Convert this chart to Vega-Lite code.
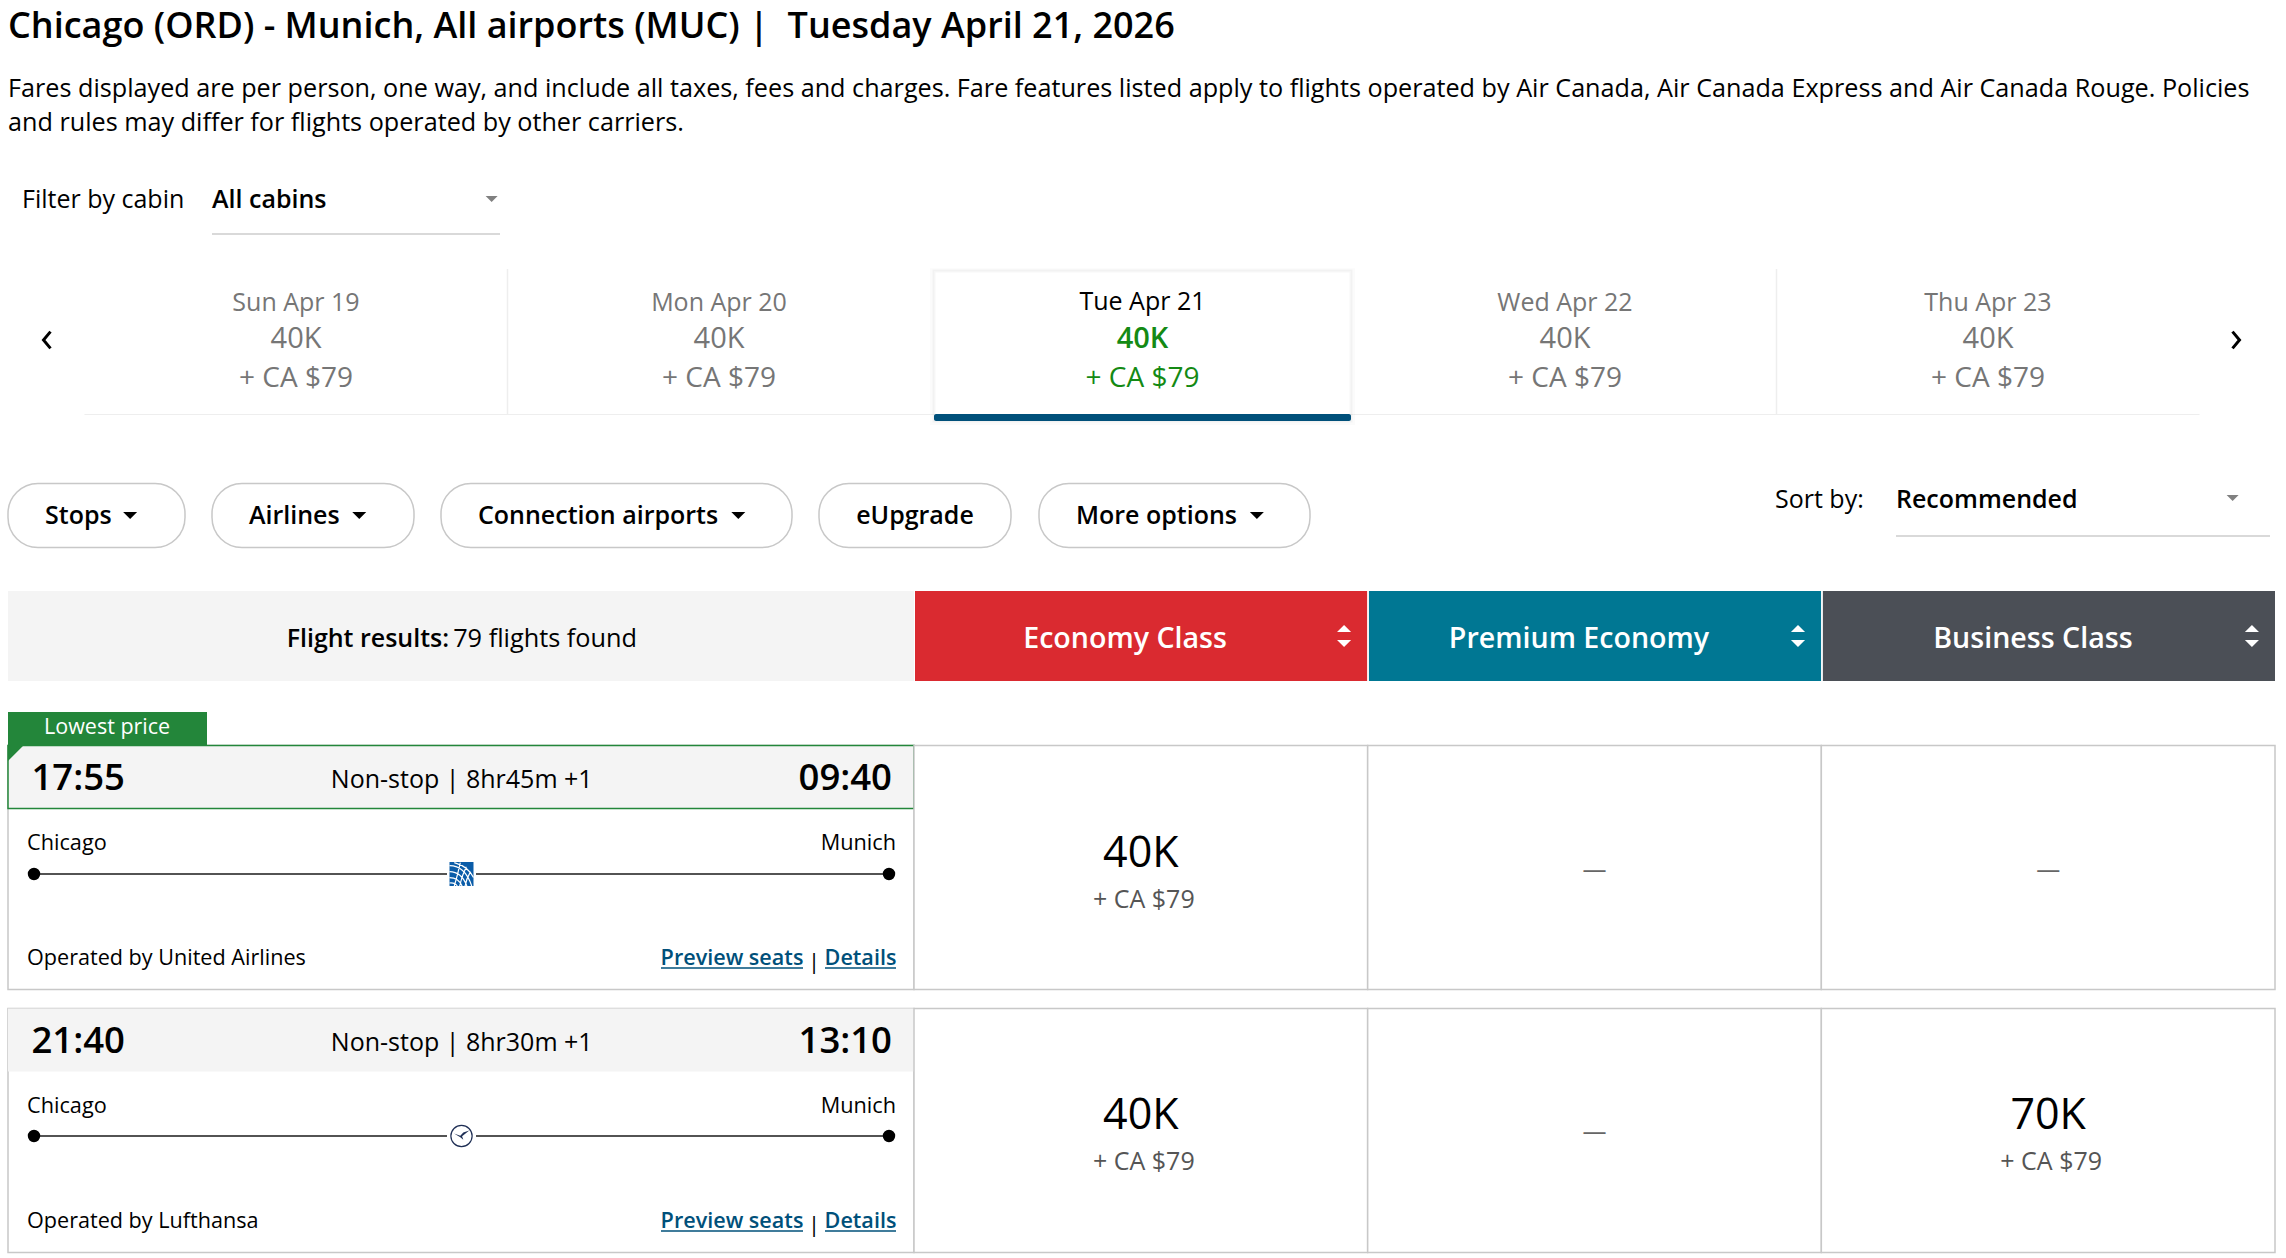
{
  "$schema": "https://vega.github.io/schema/vega-lite/v6.json",
  "width": 2286,
  "height": 1258,
  "padding": 0,
  "background": "#ffffff",
  "description": "Air Canada Aeroplan search results, Chicago to Munich",
  "config": {
    "view": {"stroke": null},
    "axis": {"disable": true},
    "scale": {"pointPadding": 0, "bandPaddingInner": 0, "bandPaddingOuter": 0},
    "text": {"font": "Open Sans", "baseline": "alphabetic", "color": "#000000"}
  },
  "datasets": {
    "page": [
      {"part": "title", "text": "Chicago (ORD) - Munich, All airports (MUC) | \u00a0Tuesday April 21, 2026"},
      {"part": "line1", "text": "Fares displayed are per person, one way, and include all taxes, fees and charges. Fare features listed apply to flights operated by Air Canada, Air Canada Express and Air Canada Rouge. Policies"},
      {"part": "line2", "text": "and rules may differ for flights operated by other carriers."}
    ],
    "selectors": [
      {"selector": "cabin", "label": "Filter by cabin", "value": "All cabins"},
      {"selector": "sort", "label": "Sort by:", "value": "Recommended"}
    ],
    "days": [
      {"day": "Sun Apr 19", "points": "40K", "cash": "+ CA $79"},
      {"day": "Mon Apr 20", "points": "40K", "cash": "+ CA $79"},
      {"day": "Tue Apr 21", "points": "40K", "cash": "+ CA $79"},
      {"day": "Wed Apr 22", "points": "40K", "cash": "+ CA $79"},
      {"day": "Thu Apr 23", "points": "40K", "cash": "+ CA $79"}
    ],
    "nav": [{"nav": "previous"}, {"nav": "next"}],
    "controls": [
      {"control": "Stops"},
      {"control": "Airlines"},
      {"control": "Connection airports"},
      {"control": "eUpgrade"},
      {"control": "More options"}
    ],
    "summary": [{"label": "Flight results:", "count": "79 flights found"}],
    "cabins": [
      {"cabin": "Economy Class"},
      {"cabin": "Premium Economy"},
      {"cabin": "Business Class"}
    ],
    "flights": [
      {"carrier": "United Airlines", "lowest": true, "tag": "Lowest price", "departure": "17:55", "duration": "Non-stop  |  8hr45m +1", "arrival": "09:40", "origin": "Chicago", "destination": "Munich", "operated": "Operated by United Airlines", "preview": "Preview seats", "details": "Details"},
      {"carrier": "Lufthansa", "lowest": false, "tag": "", "departure": "21:40", "duration": "Non-stop  |  8hr30m +1", "arrival": "13:10", "origin": "Chicago", "destination": "Munich", "operated": "Operated by Lufthansa", "preview": "Preview seats", "details": "Details"}
    ],
    "stops": [
      {"carrier": "United Airlines", "stop": "origin", "progress": 0},
      {"carrier": "United Airlines", "stop": "logo", "progress": 0.5},
      {"carrier": "United Airlines", "stop": "destination", "progress": 1},
      {"carrier": "Lufthansa", "stop": "origin", "progress": 0},
      {"carrier": "Lufthansa", "stop": "logo", "progress": 0.5},
      {"carrier": "Lufthansa", "stop": "destination", "progress": 1}
    ],
    "fares": [
      {"carrier": "United Airlines", "cabin": "Economy Class", "points": "40K", "cash": "+ CA $79"},
      {"carrier": "United Airlines", "cabin": "Premium Economy", "points": "—", "cash": ""},
      {"carrier": "United Airlines", "cabin": "Business Class", "points": "—", "cash": ""},
      {"carrier": "Lufthansa", "cabin": "Economy Class", "points": "40K", "cash": "+ CA $79"},
      {"carrier": "Lufthansa", "cabin": "Premium Economy", "points": "—", "cash": ""},
      {"carrier": "Lufthansa", "cabin": "Business Class", "points": "70K", "cash": "+ CA $79"}
    ]
  },
  "resolve": {"scale": {"x": "independent", "y": "independent"}},
  "layer": [
    {
      "name": "title",
      "data": {"name": "page"},
      "transform": [{"filter": "datum.part == 'title'"}],
      "mark": {"type": "text", "align": "left", "fontSize": 36, "fontWeight": 600},
      "encoding": {
        "x": {"field": "part", "type": "nominal", "scale": {"type": "point", "range": [8, 8]}},
        "y": {"field": "part", "type": "nominal", "scale": {"type": "point", "range": [38, 38]}},
        "text": {"field": "text"}
      }
    },
    {
      "name": "notice",
      "data": {"name": "page"},
      "transform": [{"filter": "datum.part != 'title'"}],
      "mark": {"type": "text", "align": "left", "fontSize": 25.2},
      "encoding": {
        "x": {"datum": "start", "type": "nominal", "scale": {"type": "point", "range": [8, 8]}},
        "y": {"field": "part", "type": "nominal", "scale": {"type": "point", "domain": ["line1", "line2"], "range": [97, 131]}},
        "text": {"field": "text"}
      }
    },
    {
      "name": "cabin filter",
      "data": {"name": "selectors"},
      "transform": [{"filter": "datum.selector == 'cabin'"}],
      "layer": [
        {
          "mark": {"type": "rule", "color": "#cccccc", "strokeWidth": 1.5},
          "encoding": {
            "x": {"datum": 0, "type": "quantitative", "scale": {"domain": [0, 1], "range": [212, 500]}},
            "x2": {"datum": 1},
            "y": {"datum": 1, "type": "quantitative", "scale": {"domain": [0, 1], "range": [199, 234]}}
          }
        },
        {
          "mark": {"type": "point", "filled": true, "color": "#808080", "opacity": 1, "size": 144, "shape": "M-1,-0.5L1,-0.5L0,0.5Z"},
          "encoding": {"x": {"datum": 0.971, "type": "quantitative"}, "y": {"datum": 0, "type": "quantitative"}}
        },
        {
          "mark": {"type": "text", "align": "left", "fontSize": 25, "fontWeight": 600},
          "encoding": {"x": {"datum": 0, "type": "quantitative"}, "y": {"datum": 0.26, "type": "quantitative"}, "text": {"field": "value"}}
        },
        {
          "mark": {"type": "text", "align": "left", "fontSize": 25, "dx": -190},
          "encoding": {"x": {"datum": 0, "type": "quantitative"}, "y": {"datum": 0.26, "type": "quantitative"}, "text": {"field": "label"}}
        }
      ]
    },
    {
      "name": "sort",
      "data": {"name": "selectors"},
      "transform": [{"filter": "datum.selector == 'sort'"}],
      "layer": [
        {
          "mark": {"type": "rule", "color": "#cccccc", "strokeWidth": 1.5},
          "encoding": {
            "x": {"datum": 0, "type": "quantitative", "scale": {"domain": [0, 1], "range": [1896, 2270]}},
            "x2": {"datum": 1},
            "y": {"datum": 1, "type": "quantitative", "scale": {"domain": [0, 1], "range": [498, 536]}}
          }
        },
        {
          "mark": {"type": "point", "filled": true, "color": "#808080", "opacity": 1, "size": 144, "shape": "M-1,-0.5L1,-0.5L0,0.5Z"},
          "encoding": {"x": {"datum": 0.9, "type": "quantitative"}, "y": {"datum": 0, "type": "quantitative"}}
        },
        {
          "mark": {"type": "text", "align": "left", "fontSize": 25, "fontWeight": 600},
          "encoding": {"x": {"datum": 0, "type": "quantitative"}, "y": {"datum": 0.26, "type": "quantitative"}, "text": {"field": "value"}}
        },
        {
          "mark": {"type": "text", "align": "left", "fontSize": 25, "dx": -121},
          "encoding": {"x": {"datum": 0, "type": "quantitative"}, "y": {"datum": 0.26, "type": "quantitative"}, "text": {"field": "label"}}
        }
      ]
    },
    {
      "name": "date strip",
      "data": {"name": "days"},
      "layer": [
        {
          "mark": {"type": "rect", "color": "#eeeeee"},
          "encoding": {
            "x": {"field": "day", "type": "nominal", "sort": null, "scale": {"type": "band", "range": [84.5, 2199.5]}},
            "y": {"datum": 0.993, "type": "quantitative", "scale": {"domain": [0, 1], "range": [269, 415]}},
            "y2": {"datum": 1}
          }
        },
        {
          "transform": [{"filter": "datum.day == 'Sun Apr 19' || datum.day == 'Wed Apr 22'"}],
          "mark": {"type": "rule", "color": "#eeeeee", "strokeWidth": 1.5},
          "encoding": {
            "x": {"field": "day", "type": "nominal", "bandPosition": 1, "sort": null, "scale": {"type": "band"}},
            "y": {"datum": 0, "type": "quantitative"},
            "y2": {"datum": 1}
          }
        },
        {
          "transform": [{"filter": "datum.day != 'Tue Apr 21'"}],
          "layer": [
            {
              "mark": {"type": "text", "align": "center", "fontSize": 25, "color": "#767676"},
              "encoding": {
                "x": {"field": "day", "type": "nominal", "sort": null, "scale": {"type": "band"}},
                "y": {"datum": 0.285, "type": "quantitative"},
                "text": {"field": "day"}
              }
            },
            {
              "mark": {"type": "text", "align": "center", "fontSize": 29, "color": "#767676"},
              "encoding": {
                "x": {"field": "day", "type": "nominal", "sort": null, "scale": {"type": "band"}},
                "y": {"datum": 0.54, "type": "quantitative"},
                "text": {"field": "points"}
              }
            },
            {
              "mark": {"type": "text", "align": "center", "fontSize": 28, "color": "#767676"},
              "encoding": {
                "x": {"field": "day", "type": "nominal", "sort": null, "scale": {"type": "band"}},
                "y": {"datum": 0.81, "type": "quantitative"},
                "text": {"field": "cash"}
              }
            }
          ]
        }
      ]
    },
    {
      "name": "selected day",
      "data": {"name": "days"},
      "transform": [{"filter": "datum.day == 'Tue Apr 21'"}],
      "layer": [
        {
          "mark": {"type": "rect", "fill": "#ffffff", "stroke": "#000000", "strokeWidth": 8, "strokeOpacity": 0.015},
          "encoding": {
            "x": {"field": "day", "type": "nominal", "scale": {"type": "band", "range": [934, 1351]}},
            "y": {"datum": 0.015, "type": "quantitative", "scale": {"domain": [0, 1], "range": [270, 421]}},
            "y2": {"datum": 1}
          }
        },
        {
          "mark": {"type": "rect", "fill": "#ffffff", "stroke": "#000000", "strokeWidth": 3, "strokeOpacity": 0.035},
          "encoding": {
            "x": {"field": "day", "type": "nominal", "scale": {"type": "band"}},
            "y": {"datum": 0.006, "type": "quantitative"},
            "y2": {"datum": 1}
          }
        },
        {
          "mark": {"type": "rect", "color": "#00507a", "cornerRadius": 2},
          "encoding": {
            "x": {"field": "day", "type": "nominal", "scale": {"type": "band"}},
            "y": {"datum": 0.954, "type": "quantitative"},
            "y2": {"datum": 1}
          }
        },
        {
          "mark": {"type": "text", "align": "center", "fontSize": 25},
          "encoding": {
            "x": {"field": "day", "type": "nominal", "scale": {"type": "band"}},
            "y": {"datum": 0.267, "type": "quantitative"},
            "text": {"field": "day"}
          }
        },
        {
          "mark": {"type": "text", "align": "center", "fontSize": 29, "fontWeight": 600, "color": "#148a14"},
          "encoding": {
            "x": {"field": "day", "type": "nominal", "scale": {"type": "band"}},
            "y": {"datum": 0.517, "type": "quantitative"},
            "text": {"field": "points"}
          }
        },
        {
          "mark": {"type": "text", "align": "center", "fontSize": 28, "color": "#148a14"},
          "encoding": {
            "x": {"field": "day", "type": "nominal", "scale": {"type": "band"}},
            "y": {"datum": 0.776, "type": "quantitative"},
            "text": {"field": "cash"}
          }
        }
      ]
    },
    {
      "name": "previous day",
      "data": {"name": "nav"},
      "mark": {"type": "point", "filled": false, "color": "#000000", "opacity": 1, "strokeWidth": 3, "size": 784, "shape": "M0.25,-0.6L-0.25,0L0.25,0.6"},
      "transform": [{"filter": "datum.nav == 'previous'"}],
      "encoding": {
        "x": {"field": "nav", "type": "nominal", "scale": {"type": "point", "range": [47, 47]}},
        "y": {"field": "nav", "type": "nominal", "scale": {"type": "point", "range": [340, 340]}}
      }
    },
    {
      "name": "next day",
      "data": {"name": "nav"},
      "mark": {"type": "point", "filled": false, "color": "#000000", "opacity": 1, "strokeWidth": 3, "size": 784, "shape": "M-0.25,-0.6L0.25,0L-0.25,0.6"},
      "transform": [{"filter": "datum.nav == 'next'"}],
      "encoding": {
        "x": {"field": "nav", "type": "nominal", "scale": {"type": "point", "range": [2236, 2236]}},
        "y": {"field": "nav", "type": "nominal", "scale": {"type": "point", "range": [340, 340]}}
      }
    },
    {
      "name": "stops pill",
      "data": {"name": "controls"},
      "transform": [{"filter": "datum.control == 'Stops'"}],
      "layer": [
        {
          "mark": {"type": "rect", "fill": "#ffffff", "stroke": "#c8c8c8", "strokeWidth": 1.5, "cornerRadius": 30},
          "encoding": {
            "x": {"datum": 0, "type": "quantitative", "scale": {"domain": [0, 1], "range": [8, 185]}},
            "x2": {"datum": 1},
            "y": {"datum": 0, "type": "quantitative", "scale": {"domain": [0, 1], "range": [483.5, 547.5]}},
            "y2": {"datum": 1}
          }
        },
        {
          "mark": {"type": "text", "align": "left", "dx": 37, "fontSize": 25, "fontWeight": 600},
          "encoding": {"x": {"datum": 0, "type": "quantitative"}, "y": {"datum": 0.64, "type": "quantitative"}, "text": {"field": "control"}}
        },
        {
          "mark": {"type": "point", "filled": true, "color": "#000000", "opacity": 1, "size": 196, "shape": "M-1,-0.5L1,-0.5L0,0.5Z"},
          "encoding": {"x": {"datum": 0.69, "type": "quantitative"}, "y": {"datum": 0.5, "type": "quantitative"}}
        }
      ]
    },
    {
      "name": "airlines pill",
      "data": {"name": "controls"},
      "transform": [{"filter": "datum.control == 'Airlines'"}],
      "layer": [
        {
          "mark": {"type": "rect", "fill": "#ffffff", "stroke": "#c8c8c8", "strokeWidth": 1.5, "cornerRadius": 30},
          "encoding": {
            "x": {"datum": 0, "type": "quantitative", "scale": {"domain": [0, 1], "range": [212, 414]}},
            "x2": {"datum": 1},
            "y": {"datum": 0, "type": "quantitative", "scale": {"domain": [0, 1], "range": [483.5, 547.5]}},
            "y2": {"datum": 1}
          }
        },
        {
          "mark": {"type": "text", "align": "left", "dx": 37, "fontSize": 25, "fontWeight": 600},
          "encoding": {"x": {"datum": 0, "type": "quantitative"}, "y": {"datum": 0.64, "type": "quantitative"}, "text": {"field": "control"}}
        },
        {
          "mark": {"type": "point", "filled": true, "color": "#000000", "opacity": 1, "size": 196, "shape": "M-1,-0.5L1,-0.5L0,0.5Z"},
          "encoding": {"x": {"datum": 0.729, "type": "quantitative"}, "y": {"datum": 0.5, "type": "quantitative"}}
        }
      ]
    },
    {
      "name": "connection pill",
      "data": {"name": "controls"},
      "transform": [{"filter": "datum.control == 'Connection airports'"}],
      "layer": [
        {
          "mark": {"type": "rect", "fill": "#ffffff", "stroke": "#c8c8c8", "strokeWidth": 1.5, "cornerRadius": 30},
          "encoding": {
            "x": {"datum": 0, "type": "quantitative", "scale": {"domain": [0, 1], "range": [441, 792]}},
            "x2": {"datum": 1},
            "y": {"datum": 0, "type": "quantitative", "scale": {"domain": [0, 1], "range": [483.5, 547.5]}},
            "y2": {"datum": 1}
          }
        },
        {
          "mark": {"type": "text", "align": "left", "dx": 37, "fontSize": 25, "fontWeight": 600},
          "encoding": {"x": {"datum": 0, "type": "quantitative"}, "y": {"datum": 0.64, "type": "quantitative"}, "text": {"field": "control"}}
        },
        {
          "mark": {"type": "point", "filled": true, "color": "#000000", "opacity": 1, "size": 196, "shape": "M-1,-0.5L1,-0.5L0,0.5Z"},
          "encoding": {"x": {"datum": 0.847, "type": "quantitative"}, "y": {"datum": 0.5, "type": "quantitative"}}
        }
      ]
    },
    {
      "name": "eupgrade pill",
      "data": {"name": "controls"},
      "transform": [{"filter": "datum.control == 'eUpgrade'"}],
      "layer": [
        {
          "mark": {"type": "rect", "fill": "#ffffff", "stroke": "#c8c8c8", "strokeWidth": 1.5, "cornerRadius": 30},
          "encoding": {
            "x": {"datum": 0, "type": "quantitative", "scale": {"domain": [0, 1], "range": [819, 1011]}},
            "x2": {"datum": 1},
            "y": {"datum": 0, "type": "quantitative", "scale": {"domain": [0, 1], "range": [483.5, 547.5]}},
            "y2": {"datum": 1}
          }
        },
        {
          "mark": {"type": "text", "align": "center", "fontSize": 25, "fontWeight": 600},
          "encoding": {"x": {"datum": 0.5, "type": "quantitative"}, "y": {"datum": 0.64, "type": "quantitative"}, "text": {"field": "control"}}
        }
      ]
    },
    {
      "name": "more options pill",
      "data": {"name": "controls"},
      "transform": [{"filter": "datum.control == 'More options'"}],
      "layer": [
        {
          "mark": {"type": "rect", "fill": "#ffffff", "stroke": "#c8c8c8", "strokeWidth": 1.5, "cornerRadius": 30},
          "encoding": {
            "x": {"datum": 0, "type": "quantitative", "scale": {"domain": [0, 1], "range": [1039, 1310]}},
            "x2": {"datum": 1},
            "y": {"datum": 0, "type": "quantitative", "scale": {"domain": [0, 1], "range": [483.5, 547.5]}},
            "y2": {"datum": 1}
          }
        },
        {
          "mark": {"type": "text", "align": "left", "dx": 37, "fontSize": 25, "fontWeight": 600},
          "encoding": {"x": {"datum": 0, "type": "quantitative"}, "y": {"datum": 0.64, "type": "quantitative"}, "text": {"field": "control"}}
        },
        {
          "mark": {"type": "point", "filled": true, "color": "#000000", "opacity": 1, "size": 196, "shape": "M-1,-0.5L1,-0.5L0,0.5Z"},
          "encoding": {"x": {"datum": 0.804, "type": "quantitative"}, "y": {"datum": 0.5, "type": "quantitative"}}
        }
      ]
    },
    {
      "name": "results bar",
      "data": {"name": "summary"},
      "layer": [
        {
          "mark": {"type": "rect", "color": "#f4f4f4"},
          "encoding": {
            "x": {"datum": 0, "type": "quantitative", "scale": {"domain": [0, 1], "range": [8, 914]}},
            "x2": {"datum": 1},
            "y": {"datum": 0, "type": "quantitative", "scale": {"domain": [0, 1], "range": [591, 681]}},
            "y2": {"datum": 1}
          }
        },
        {
          "mark": {"type": "text", "align": "right", "fontSize": 25, "fontWeight": 600, "dx": -1},
          "encoding": {"x": {"datum": 0.488, "type": "quantitative"}, "y": {"datum": 0.62, "type": "quantitative"}, "text": {"field": "label"}}
        },
        {
          "mark": {"type": "text", "align": "left", "fontSize": 25.3, "dx": 3},
          "encoding": {"x": {"datum": 0.488, "type": "quantitative"}, "y": {"datum": 0.62, "type": "quantitative"}, "text": {"field": "count"}}
        }
      ]
    },
    {
      "name": "cabin headers",
      "data": {"name": "cabins"},
      "layer": [
        {
          "mark": {"type": "rect"},
          "encoding": {
            "x": {"field": "cabin", "type": "nominal", "sort": null, "scale": {"type": "band", "range": [915, 2275], "paddingInner": 0.004}},
            "y": {"datum": 0, "type": "quantitative", "scale": {"domain": [0, 1], "range": [591, 681]}},
            "y2": {"datum": 1},
            "color": {
              "field": "cabin",
              "type": "nominal",
              "legend": null,
              "scale": {"domain": ["Economy Class", "Premium Economy", "Business Class"], "range": ["#da2a30", "#007793", "#4b4f56"]}
            }
          }
        },
        {
          "mark": {"type": "text", "align": "center", "fontSize": 28.6, "fontWeight": 600, "color": "#ffffff", "dx": -16},
          "encoding": {
            "x": {"field": "cabin", "type": "nominal", "sort": null, "scale": {"type": "band"}},
            "y": {"datum": 0.633, "type": "quantitative"},
            "text": {"field": "cabin"}
          }
        },
        {
          "mark": {"type": "point", "filled": true, "color": "#ffffff", "opacity": 1, "size": 484, "shape": "M0,-1L0.64,-0.36L-0.64,-0.36Z M-0.64,0.36L0.64,0.36L0,1Z"},
          "encoding": {
            "x": {"field": "cabin", "type": "nominal", "bandPosition": 0.949, "sort": null, "scale": {"type": "band"}},
            "y": {"datum": 0.5, "type": "quantitative"}
          }
        }
      ]
    },
    {
      "name": "flight cards",
      "data": {"name": "flights"},
      "mark": {"type": "rect", "fill": "#ffffff", "stroke": "#c8c8c8", "strokeWidth": 1.5},
      "encoding": {
        "x": {"datum": 0, "type": "quantitative", "scale": {"domain": [0, 1], "range": [8, 914]}},
        "x2": {"datum": 1},
        "y": {"field": "carrier", "type": "nominal", "sort": null, "scale": {"type": "band", "range": [745.5, 1252.5], "paddingInner": 0.0722}}
      }
    },
    {
      "name": "time strips",
      "data": {"name": "flights"},
      "mark": {"type": "rect", "fill": "#f4f4f4", "strokeWidth": 1.5},
      "encoding": {
        "x": {"datum": 0, "type": "quantitative", "scale": {"domain": [0, 1], "range": [8, 914]}},
        "x2": {"datum": 1},
        "y": {"field": "carrier", "type": "nominal", "sort": null, "scale": {"type": "band", "range": [745.5, 1071.5], "paddingInner": 0.76}},
        "stroke": {"condition": {"test": "datum.lowest", "value": "#23863a"}, "value": null}
      }
    },
    {
      "name": "lowest price tag",
      "data": {"name": "flights"},
      "transform": [{"filter": "datum.lowest"}],
      "layer": [
        {
          "mark": {"type": "rect", "color": "#23863a"},
          "encoding": {
            "x": {"datum": 0, "type": "quantitative", "scale": {"domain": [0, 1], "range": [8, 207]}},
            "x2": {"datum": 1},
            "y": {"datum": 0, "type": "quantitative", "scale": {"domain": [0, 1], "range": [712, 761]}},
            "y2": {"datum": 0.673}
          }
        },
        {
          "mark": {"type": "point", "filled": true, "color": "#23863a", "opacity": 1, "size": 256, "shape": "M-1,-1L1,-1L-1,1Z"},
          "encoding": {"x": {"datum": 0.04, "type": "quantitative"}, "y": {"datum": 0.837, "type": "quantitative"}}
        },
        {
          "mark": {"type": "text", "align": "left", "fontSize": 21.5, "color": "#ffffff"},
          "encoding": {"x": {"datum": 0.181, "type": "quantitative"}, "y": {"datum": 0.449, "type": "quantitative"}, "text": {"field": "tag"}}
        }
      ]
    },
    {
      "name": "times",
      "data": {"name": "flights"},
      "layer": [
        {
          "mark": {"type": "text", "align": "left", "fontSize": 36.5, "fontWeight": 600},
          "encoding": {
            "x": {"datum": "departure", "type": "nominal", "scale": {"type": "point", "domain": ["departure", "duration", "arrival"], "range": [31.5, 892]}},
            "y": {"field": "carrier", "type": "nominal", "sort": null, "scale": {"type": "point", "range": [789.5, 1052.5]}},
            "text": {"field": "departure"}
          }
        },
        {
          "mark": {"type": "text", "align": "center", "fontSize": 25, "dy": -2, "dx": 0},
          "encoding": {
            "x": {"datum": "duration", "type": "nominal", "scale": {"type": "point"}},
            "y": {"field": "carrier", "type": "nominal", "sort": null, "scale": {"type": "point"}},
            "text": {"field": "duration"}
          }
        },
        {
          "mark": {"type": "text", "align": "right", "fontSize": 36.5, "fontWeight": 600},
          "encoding": {
            "x": {"datum": "arrival", "type": "nominal", "scale": {"type": "point"}},
            "y": {"field": "carrier", "type": "nominal", "sort": null, "scale": {"type": "point"}},
            "text": {"field": "arrival"}
          }
        }
      ]
    },
    {
      "name": "cities",
      "data": {"name": "flights"},
      "layer": [
        {
          "mark": {"type": "text", "align": "left", "fontSize": 21.7},
          "encoding": {
            "x": {"datum": "origin", "type": "nominal", "scale": {"type": "point", "domain": ["origin", "destination"], "range": [27, 896]}},
            "y": {"field": "carrier", "type": "nominal", "sort": null, "scale": {"type": "point", "range": [849.5, 1112.5]}},
            "text": {"field": "origin"}
          }
        },
        {
          "mark": {"type": "text", "align": "right", "fontSize": 21.7},
          "encoding": {
            "x": {"datum": "destination", "type": "nominal", "scale": {"type": "point"}},
            "y": {"field": "carrier", "type": "nominal", "sort": null, "scale": {"type": "point"}},
            "text": {"field": "destination"}
          }
        }
      ]
    },
    {
      "name": "routes",
      "data": {"name": "stops"},
      "encoding": {
        "x": {"field": "progress", "type": "quantitative", "scale": {"domain": [0, 1], "range": [34, 889]}},
        "y": {"field": "carrier", "type": "nominal", "sort": null, "scale": {"type": "point", "range": [874, 1136]}}
      },
      "layer": [
        {"mark": {"type": "line", "color": "#1a1a1a", "strokeWidth": 1.5}, "encoding": {"detail": {"field": "carrier"}}},
        {
          "transform": [{"filter": "datum.stop != 'logo'"}],
          "mark": {"type": "point", "filled": true, "color": "#000000", "opacity": 1, "shape": "circle", "size": 154}
        },
        {
          "transform": [{"filter": "datum.stop == 'logo'"}],
          "mark": {"type": "point", "filled": true, "color": "#ffffff", "opacity": 1, "shape": "square", "size": 841}
        },
        {
          "transform": [{"filter": "datum.stop == 'logo' && datum.carrier == 'United Airlines'"}],
          "mark": {"type": "point", "filled": true, "color": "#0a5ca8", "opacity": 1, "shape": "square", "size": 576}
        },
        {
          "transform": [{"filter": "datum.stop == 'logo' && datum.carrier == 'United Airlines'"}],
          "mark": {"type": "point", "filled": false, "color": "#ffffff", "opacity": 1, "strokeWidth": 1.2, "size": 576, "shape": "M-1,-0.7Q0.3,-0.7 0.85,1M-1,-0.2Q0,-0.2 0.45,1M-1,0.3Q-0.25,0.3 0.05,1M-1,0.75Q-0.55,0.7 -0.35,1M-0.6,-0.95Q0.6,-0.6 1,0.3M-0.1,-0.95Q-0.3,0 -0.6,1M0.4,-0.6Q0,0.2 -0.15,1M0.75,-0.2Q0.4,0.4 0.3,1"}
        },
        {
          "transform": [{"filter": "datum.stop == 'logo' && datum.carrier == 'Lufthansa'"}],
          "mark": {"type": "point", "filled": true, "fill": "#ffffff", "stroke": "#1f2f55", "strokeWidth": 1.2, "opacity": 1, "shape": "circle", "size": 452}
        },
        {
          "transform": [{"filter": "datum.stop == 'logo' && datum.carrier == 'Lufthansa'"}],
          "mark": {"type": "point", "filled": true, "color": "#1f2f55", "opacity": 1, "size": 576, "shape": "M-0.62,-0.2L-0.1,0.1L0.15,0.32L0.05,0.02L0.65,-0.45L0.15,-0.3L-0.1,-0.02Z"}
        }
      ]
    },
    {
      "name": "operators",
      "data": {"name": "flights"},
      "mark": {"type": "text", "align": "left", "fontSize": 21.6},
      "encoding": {
        "x": {"datum": "start", "type": "nominal", "scale": {"type": "point", "range": [27, 27]}},
        "y": {"field": "carrier", "type": "nominal", "sort": null, "scale": {"type": "point", "range": [964.5, 1227.5]}},
        "text": {"field": "operated"}
      }
    },
    {
      "name": "preview links",
      "data": {"name": "flights"},
      "layer": [
        {
          "mark": {"type": "rule", "color": "#00507a", "strokeWidth": 1.5},
          "encoding": {
            "x": {"datum": 0, "type": "quantitative", "scale": {"domain": [0, 1], "range": [661, 803]}},
            "x2": {"datum": 1},
            "y": {"field": "carrier", "type": "nominal", "sort": null, "scale": {"type": "point", "range": [968, 1231]}}
          }
        },
        {
          "mark": {"type": "text", "align": "center", "fontSize": 21.6, "fontWeight": 600, "color": "#00507a", "dy": -3.5},
          "encoding": {
            "x": {"datum": 0.5, "type": "quantitative"},
            "y": {"field": "carrier", "type": "nominal", "sort": null, "scale": {"type": "point"}},
            "text": {"field": "preview"}
          }
        }
      ]
    },
    {
      "name": "details links",
      "data": {"name": "flights"},
      "layer": [
        {
          "mark": {"type": "rule", "color": "#00507a", "strokeWidth": 1.5},
          "encoding": {
            "x": {"datum": 0, "type": "quantitative", "scale": {"domain": [0, 1], "range": [825, 896]}},
            "x2": {"datum": 1},
            "y": {"field": "carrier", "type": "nominal", "sort": null, "scale": {"type": "point", "range": [968, 1231]}}
          }
        },
        {
          "mark": {"type": "text", "align": "center", "fontSize": 21.6, "fontWeight": 600, "color": "#00507a", "dy": -3.5},
          "encoding": {
            "x": {"datum": 0.5, "type": "quantitative"},
            "y": {"field": "carrier", "type": "nominal", "sort": null, "scale": {"type": "point"}},
            "text": {"field": "details"}
          }
        },
        {
          "mark": {"type": "text", "align": "center", "fontSize": 22, "dy": 1, "text": "|"},
          "encoding": {
            "x": {"datum": -0.155, "type": "quantitative"},
            "y": {"field": "carrier", "type": "nominal", "sort": null, "scale": {"type": "point"}}
          }
        }
      ]
    },
    {
      "name": "fare cells",
      "data": {"name": "fares"},
      "encoding": {
        "x": {"field": "cabin", "type": "nominal", "sort": null, "scale": {"type": "band", "domain": ["Economy Class", "Premium Economy", "Business Class"], "range": [914, 2275]}},
        "y": {"field": "carrier", "type": "nominal", "sort": null, "scale": {"type": "band", "domain": ["United Airlines", "Lufthansa"], "range": [745.5, 1252.5], "paddingInner": 0.0722}}
      },
      "layer": [
        {"mark": {"type": "rect", "fill": "#ffffff", "stroke": "#c8c8c8", "strokeWidth": 1.5}},
        {
          "transform": [{"filter": "datum.points != '—'"}],
          "mark": {"type": "text", "align": "center", "fontSize": 43, "dy": -1},
          "encoding": {"text": {"field": "points"}}
        },
        {
          "transform": [{"filter": "datum.points != '—'"}],
          "mark": {"type": "text", "align": "center", "fontSize": 25, "color": "#555555", "dy": 40, "dx": 3},
          "encoding": {"text": {"field": "cash"}}
        },
        {
          "transform": [{"filter": "datum.points == '—'"}],
          "mark": {"type": "text", "align": "center", "fontSize": 24, "color": "#666666", "dy": 10},
          "encoding": {"text": {"field": "points"}}
        }
      ]
    }
  ]
}
